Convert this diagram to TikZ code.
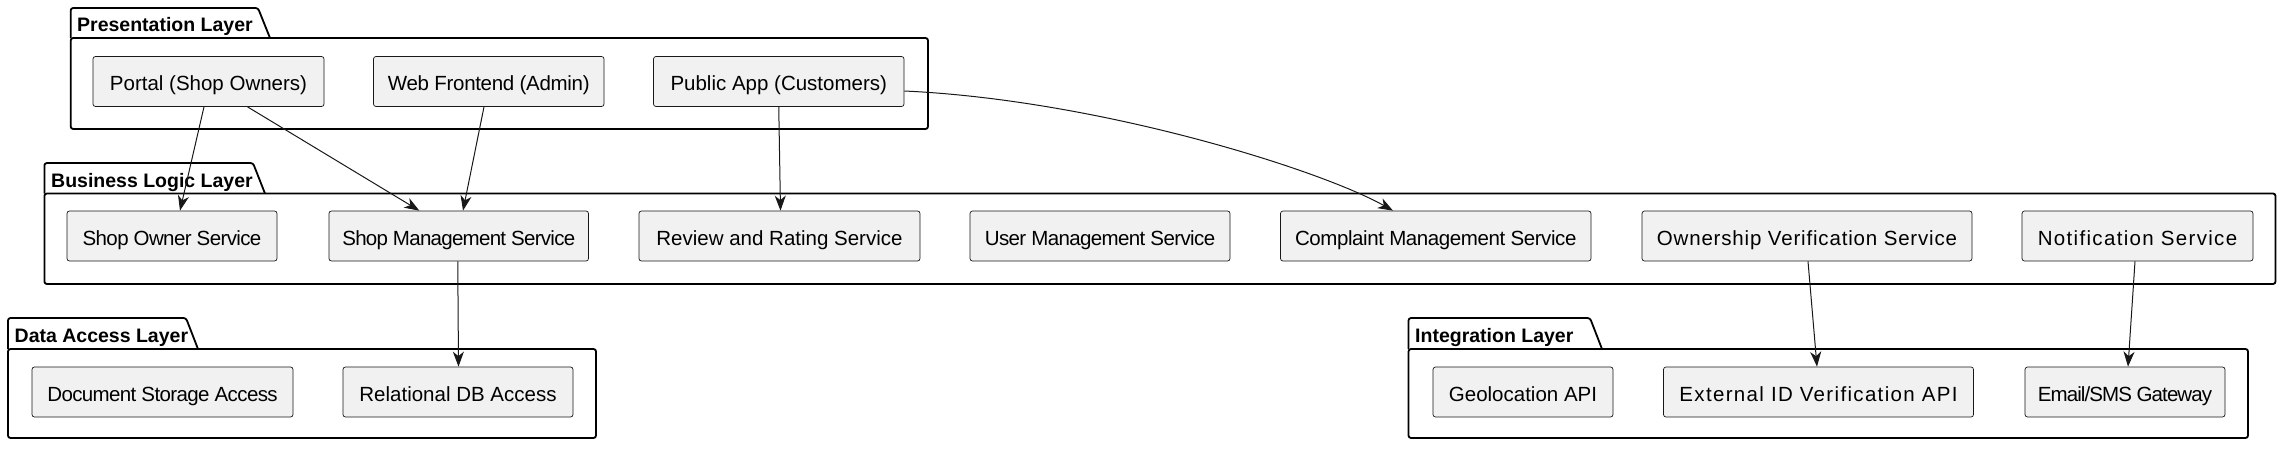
\documentclass[tikz,border=0pt]{standalone}
\usepackage{fontspec}
\setmainfont{Liberation Sans}
\usepackage{tikz}
\usetikzlibrary{arrows.meta, calc}
\usepackage{xcolor}
\definecolor{boxfill}{HTML}{F1F1F1}
\definecolor{boxline}{HTML}{181818}

\begin{document}
\begin{tikzpicture}[x=1pt, y=-1pt]

        % 1. Canvas (one unit = one pixel of the layout, y grows downwards)
        \useasboundingbox (0,0) rectangle (2287,450);

        % 2. Styles for services, packages and arrows
        \tikzset{
            svc/.style={draw=boxline, line width=0.7pt, fill=boxfill, rounded corners=2.5pt,
                minimum height=50pt, inner sep=0pt, text height=18pt, text depth=0pt,
                font=\fontsize{20.5}{24}\selectfont},
            spaced/.style={font={\fontsize{20.5}{24}\selectfont\addfontfeature{LetterSpace=#1}}},
            pkg/.style={draw=black, line width=1.8pt, rounded corners=2.5pt},
            pkgtitle/.style={anchor=base west, inner sep=0pt, font=\fontsize{19.5}{23}\selectfont\bfseries},
            flow/.style={draw=boxline, line width=1pt, -{Stealth[length=15pt, width=11pt, inset=4.5pt]}}
        }

        % 3. Package frames with their tabs
        % Presentation Layer
        \draw[pkg] (70.7,38) -- (70.7,8) -- (258,8) -- (270,38);
        \draw[pkg] (70.7,38) rectangle (928,129);
        \node[pkgtitle] (presTitle) at (77,31.5) {Presentation Layer};

        % Business Logic Layer
        \draw[pkg] (44.4,193.5) -- (44.4,163) -- (253,163) -- (265,193.5);
        \draw[pkg] (44.4,193.5) rectangle (2275.5,284);
        \node[pkgtitle] (busTitle) at (51,187) {Business Logic Layer};

        % Data Access Layer
        \draw[pkg] (8,349) -- (8,318) -- (186,318) -- (198,349);
        \draw[pkg] (8,349) rectangle (596,438);
        \node[pkgtitle] (dataTitle) at (14.5,342.5) {Data Access Layer};

        % Integration Layer
        \draw[pkg] (1408.5,349) -- (1408.5,318) -- (1590,318) -- (1602,349);
        \draw[pkg] (1408.5,349) rectangle (2248,438);
        \node[pkgtitle] (intTitle) at (1415,342.5) {Integration Layer};

        % 4. Service boxes
        % Presentation row
        \node[svc, minimum width=231pt] (portal) at (208.5,81.5) {Portal (Shop Owners)};
        \node[svc, spaced=-1.5, minimum width=230.5pt] (web) at (488.75,81.5) {Web Frontend (Admin)};
        \node[svc, minimum width=250.5pt] (public) at (778.75,81.5) {Public App (Customers)};

        % Business row
        \node[svc, spaced=-3, minimum width=210pt] (sos) at (172,236) {Shop Owner Service};
        \node[svc, spaced=-3.5, minimum width=259.5pt] (sms) at (458.75,236) {Shop Management Service};
        \node[svc, minimum width=281pt] (rrs) at (779.5,236) {Review and Rating Service};
        \node[svc, spaced=-3, minimum width=260pt] (ums) at (1100,236) {User Management Service};
        \node[svc, spaced=-2, minimum width=310.5pt] (cms) at (1435.75,236) {Complaint Management Service};
        \node[svc, spaced=4, minimum width=330pt] (ovs) at (1807,236) {Ownership Verification Service};
        \node[svc, spaced=6.5, minimum width=231pt] (ns) at (2137.5,236) {Notification Service};

        % Data and integration row
        \node[svc, spaced=-3, minimum width=261pt] (dsa) at (162.5,392) {Document Storage Access};
        \node[svc, minimum width=230pt] (rdb) at (458,392) {Relational DB Access};
        \node[svc, minimum width=180pt] (geo) at (1523,392) {Geolocation API};
        \node[svc, spaced=6.5, minimum width=310pt] (extid) at (1818.5,392) {External ID Verification API};
        \node[svc, spaced=-4.5, minimum width=200pt] (email) at (2125,392) {Email/SMS Gateway};

        % 5. Dependencies
        \draw[flow] ([xshift=-4.5pt]portal.south) -- ([xshift=8pt]sos.north);
        \draw[flow] ([xshift=39pt]portal.south) -- ([xshift=-39.4pt]sms.north);
        \draw[flow] ([xshift=-4.75pt]web.south) -- ([xshift=4.25pt]sms.north);
        \draw[flow] (public.south) -- ([xshift=1pt]rrs.north);

        % curved link from the public app over to complaints
        \coordinate (pubOut) at ([yshift=-9.5pt]public.east);
        \coordinate (cmsIn) at ([xshift=-42.75pt]cms.north);
        \draw[flow] (pubOut) .. controls ($(pubOut)+(195,9)$) and ($(cmsIn)+(-73,-41)$) .. (cmsIn);

        \draw[flow] ([xshift=-1pt]sms.south) -- ([xshift=0.5pt]rdb.north);
        \draw[flow] ([xshift=1pt]ovs.south) -- ([xshift=-1.5pt]extid.north);
        \draw[flow] ([xshift=-2.5pt]ns.south) -- ([xshift=3pt]email.north);

\end{tikzpicture}
\end{document}
